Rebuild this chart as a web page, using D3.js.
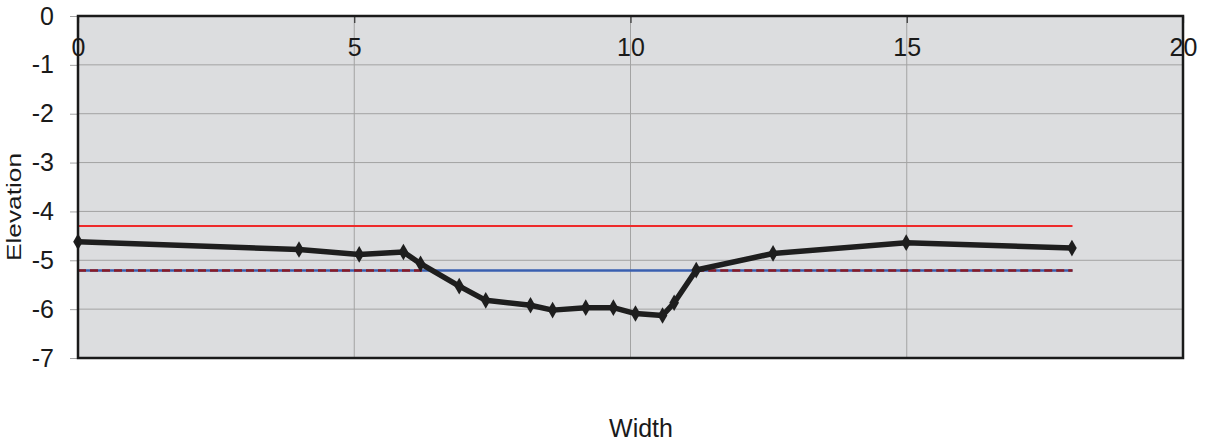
<!DOCTYPE html>
<html><head><meta charset="utf-8">
<script src="https://cdn.jsdelivr.net/npm/d3@7"></script>
<style>body{margin:0;background:#fff}svg{display:block}text{font-family:"Liberation Sans",Arial,sans-serif;fill:#1a1a1a}</style>
</head><body><div id="chart"></div>
<script>
const profileX = [0, 4.0, 5.09, 5.89, 6.2, 6.9, 7.38, 8.19, 8.59, 9.19, 9.69, 10.09, 10.58, 10.79, 11.19, 12.58, 14.99, 17.99];
const profileY = [-4.62, -4.78, -4.88, -4.83, -5.07, -5.53, -5.82, -5.92, -6.02, -5.97, -5.97, -6.09, -6.13, -5.87, -5.2, -4.86, -4.64, -4.75];
const redX = [0, 18], redY = [-4.3, -4.3];
const blueX = [0, 18], blueY = [-5.21, -5.21];
const dashSeg1X = [0, 6.25], dashSeg1Y = [-5.21, -5.21];
const dashSeg2X = [11.19, 18], dashSeg2Y = [-5.21, -5.21];
const xTicks = [0, 5, 10, 15, 20];
const yTicks = [0, -1, -2, -3, -4, -5, -6, -7];

const W = 1209, H = 442;
const m = {l: 78, t: 16, r: 26, b: 84};
const svg = d3.select("#chart").append("svg").attr("width", W).attr("height", H);
const x = d3.scaleLinear().domain([0, 20]).range([m.l, W - m.r]);
const y = d3.scaleLinear().domain([-7, 0]).range([H - m.b, m.t]);

svg.append("rect").attr("x", x(0)).attr("y", y(0)).attr("width", x(20) - x(0)).attr("height", y(-7) - y(0)).attr("fill", "#dcdddf");

// grid
svg.append("g").selectAll("line").data(yTicks.filter(d => d < 0 && d > -7)).join("line")
  .attr("x1", x(0)).attr("x2", x(20)).attr("y1", d => y(d)).attr("y2", d => y(d))
  .attr("stroke", "#a3a3a3").attr("stroke-width", 1);
svg.append("g").selectAll("line").data(xTicks.filter(d => d > 0 && d < 20)).join("line")
  .attr("y1", y(0)).attr("y2", y(-7)).attr("x1", d => x(d)).attr("x2", d => x(d))
  .attr("stroke", "#a3a3a3").attr("stroke-width", 1);

// y axis
const yAxis = d3.axisLeft(y).tickValues(yTicks).tickSize(8).tickPadding(16).tickFormat(d3.format("d"));
const ya = svg.append("g").attr("transform", `translate(${x(0)},0)`).call(yAxis);
ya.select(".domain").remove();
ya.selectAll(".tick line").attr("stroke", "#a3a3a3");
ya.selectAll(".tick text").attr("font-size", 25).attr("fill", "#1a1a1a").text(d => d === 0 ? "0" : "-" + Math.abs(d));

// x axis: ticks pointing down inside the top edge, labels inside
const xAxis = d3.axisBottom(x).tickValues(xTicks).tickSize(7).tickFormat(d3.format("d"));
const xa = svg.append("g").attr("transform", `translate(0,${y(0)})`).call(xAxis);
xa.select(".domain").remove();
xa.selectAll(".tick line").attr("stroke", "#333").attr("stroke-width", 1.2);
xa.selectAll(".tick text").attr("font-size", 25).attr("fill", "#1a1a1a").attr("y", 40).attr("dy", 0);

const line = d3.line().x(d => x(d[0])).y(d => y(d[1]));
const zip = (a, b) => a.map((v, i) => [v, b[i]]);

svg.append("path").datum(zip(redX, redY)).attr("d", line).attr("stroke", "#ee2a2a").attr("stroke-width", 2).attr("fill", "none");
svg.append("path").datum(zip(blueX, blueY)).attr("d", line).attr("stroke", "#3a5fb0").attr("stroke-width", 2.5).attr("fill", "none");
[zip(dashSeg1X, dashSeg1Y), zip(dashSeg2X, dashSeg2Y)].forEach(s => {
  svg.append("path").datum(s).attr("d", line).attr("stroke", "#8a1b24").attr("stroke-width", 2.5)
    .attr("stroke-dasharray", "8,4").attr("fill", "none");
});

const prof = zip(profileX, profileY);
svg.append("path").datum(prof).attr("d", line).attr("stroke", "#1e1e1e").attr("stroke-width", 5.5).attr("fill", "none").attr("stroke-linejoin", "round");
svg.append("g").selectAll("path").data(prof).join("path")
  .attr("d", d3.symbol().type(d3.symbolDiamond).size(80))
  .attr("transform", d => `translate(${x(d[0])},${y(d[1])})`).attr("fill", "#1e1e1e");

// frame
svg.append("rect").attr("x", x(0)).attr("y", y(0)).attr("width", x(20) - x(0)).attr("height", y(-7) - y(0))
  .attr("fill", "none").attr("stroke", "#1a1a1a").attr("stroke-width", 2.5);

svg.append("text").attr("x", 641).attr("y", 437).attr("text-anchor", "middle").attr("font-size", 25).text("Width");
svg.append("text").attr("transform", `translate(21,207) rotate(-90)`).attr("text-anchor", "middle")
  .attr("font-size", 20).attr("textLength", 108).attr("lengthAdjust", "spacingAndGlyphs").text("Elevation");
</script></body></html>
